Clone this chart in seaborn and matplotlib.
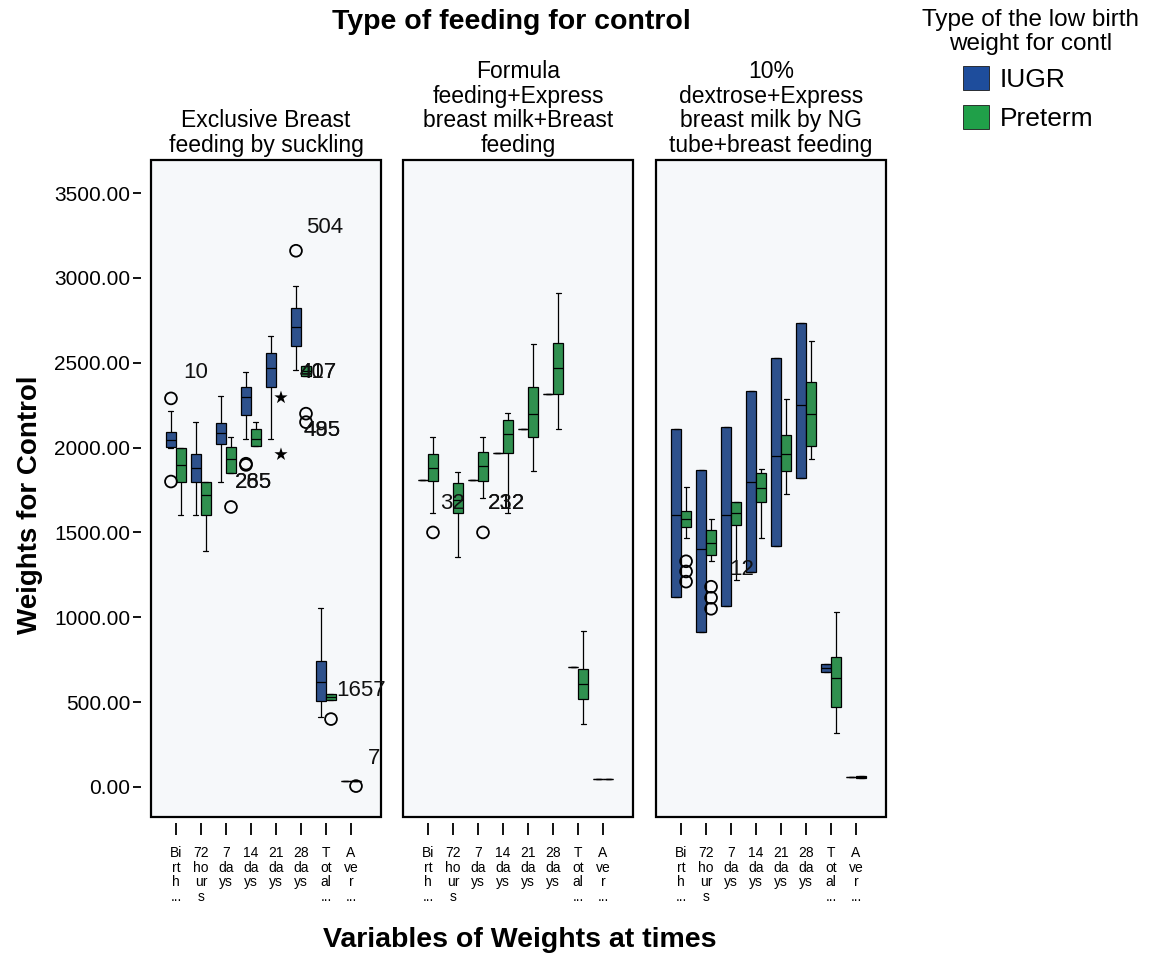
import numpy as np
import pandas as pd
import matplotlib
matplotlib.use("Agg")
import matplotlib.pyplot as plt
from matplotlib.patches import Patch
from matplotlib.ticker import FormatStrFormatter
import seaborn as sns

# ---------------------------------------------------------------- data
times = ["Birth", "72 hours", "7 days", "14 days", "21 days", "28 days", "Total", "Average"]
time_ticks = ["Bi\nrt\nh\n...", "72\nho\nur\ns", "7\nda\nys", "14\nda\nys",
              "21\nda\nys", "28\nda\nys", "T\not\nal\n...", "A\nve\nr\n..."]
types = ["IUGR", "Preterm"]
feedings = ["Exclusive Breast\nfeeding by suckling",
            "Formula\nfeeding+Express\nbreast milk+Breast\nfeeding",
            "10%\ndextrose+Express\nbreast milk by NG\ntube+breast feeding"]

# five-number summaries: (low whisker, Q1, median, Q3, high whisker)
breast_iugr = [(2000, 2005, 2045, 2090, 2215), (1600, 1800, 1880, 1960, 2150),
               (1795, 2020, 2085, 2145, 2305), (2050, 2195, 2300, 2355, 2445),
               (2050, 2360, 2470, 2555, 2655), (2460, 2600, 2710, 2820, 2955),
               (410, 505, 620, 745, 1055), (37, 37, 37, 37, 37)]
breast_preterm = [(1600, 1800, 1900, 2000, 2000), (1390, 1600, 1720, 1800, 1800),
                  (1850, 1850, 1930, 2005, 2060), (2010, 2010, 2050, 2110, 2150),
                  None, (2420, 2420, 2450, 2480, 2480),
                  (510, 510, 530, 550, 550), (35, 35, 35, 35, 35)]

formula_iugr = [(1807,) * 5, None, (1807,) * 5, (1969,) * 5,
                (2111,) * 5, (2318,) * 5, (705,) * 5, (47,) * 5]
formula_preterm = [(1612, 1801, 1880, 1961, 2061), (1353, 1612, 1690, 1790, 1858),
                   (1700, 1801, 1890, 1973, 2061), (1612, 1969, 2080, 2162, 2203),
                   (1861, 2061, 2200, 2360, 2611), (2111, 2318, 2467, 2614, 2912),
                   (370, 520, 606, 697, 917), (45, 45, 45, 45, 45)]

dextrose_iugr = [(1120, 1120, 1600, 2110, 2110), (915, 915, 1400, 1870, 1870),
                 (1065, 1065, 1600, 2120, 2120), (1265, 1265, 1800, 2335, 2335),
                 (1420, 1420, 1950, 2530, 2530), (1820, 1820, 2250, 2735, 2735),
                 (675, 675, 700, 722, 722), (59, 59, 59, 59, 59)]
dextrose_preterm = [(1470, 1530, 1580, 1625, 1770), (1330, 1365, 1440, 1515, 1577),
                    (1217, 1541, 1613, 1677, 1677), (1465, 1680, 1760, 1850, 1874),
                    (1725, 1862, 1960, 2073, 2286), (1931, 2012, 2199, 2386, 2628),
                    (319, 474, 644, 768, 1029), (52, 52, 58, 62, 62)]

# outlying cases: (time, type, weight, marker)
breast_outliers = [("Birth", "IUGR", 2290, "o"), ("Birth", "IUGR", 1800, "o"),
                   ("7 days", "Preterm", 1650, "o"), ("14 days", "IUGR", 1905, "o"),
                   ("14 days", "IUGR", 1898, "o"), ("21 days", "Preterm", 2295, "*"),
                   ("21 days", "Preterm", 1960, "*"), ("28 days", "IUGR", 3160, "o"),
                   ("28 days", "Preterm", 2200, "o"), ("28 days", "Preterm", 2150, "o"),
                   ("Total", "Preterm", 400, "o"), ("Average", "Preterm", 5, "o")]
formula_outliers = [("Birth", "Preterm", 1500, "o"), ("7 days", "Preterm", 1500, "o")]
dextrose_outliers = [("Birth", "Preterm", 1330, "o"), ("Birth", "Preterm", 1270, "o"),
                     ("Birth", "Preterm", 1210, "o"), ("72 hours", "Preterm", 1180, "o"),
                     ("72 hours", "Preterm", 1115, "o"), ("72 hours", "Preterm", 1050, "o")]

# case-number labels: (time, type, weight, text)
breast_labels = [("Birth", "IUGR", 2290, "10"), ("14 days", "IUGR", 1905, "285"),
                 ("14 days", "IUGR", 1905, "265"), ("21 days", "Preterm", 2295, "417"),
                 ("21 days", "Preterm", 2295, "407"), ("28 days", "IUGR", 3160, "504"),
                 ("28 days", "Preterm", 2200, "485"), ("28 days", "Preterm", 2200, "495"),
                 ("Total", "Preterm", 400, "1657"), ("Average", "Preterm", 5, "7")]
formula_labels = [("Birth", "Preterm", 1500, "32"), ("7 days", "Preterm", 1500, "212"),
                  ("7 days", "Preterm", 1500, "232")]
dextrose_labels = [("72 hours", "Preterm", 1180, "12")]

y_ticks = [0, 500, 1000, 1500, 2000, 2500, 3000, 3500]

# ---------------------------------------------------------------- style
sns.set_theme(style="white")
plt.rcParams["font.family"] = ["Liberation Sans", "DejaVu Sans"]
for key in ("text.color", "axes.labelcolor", "xtick.color", "ytick.color"):
    plt.rcParams[key] = "black"
palette = {"IUGR": "#1e4d9c", "Preterm": "#20a049"}

# label placement in pixels: (dx, dy, vertical alignment)
label_offsets = {"10": (12, 15, "bottom"), "285": (-11, -8, "top"), "265": (-11, -8, "top"),
                 "417": (19, 15, "bottom"), "407": (19, 15, "bottom"),
                 "504": (10, 13, "bottom"), "485": (-2, -6, "top"), "495": (-2, -6, "top"),
                 "1657": (5, 18, "bottom"), "7": (12, 17, "bottom"),
                 "32": (7, 18, "bottom"), "212": (5, 18, "bottom"), "232": (5, 18, "bottom"),
                 "12": (18, 7, "bottom")}


def summary_frame(iugr, preterm):
    rows = []
    for kind, stats in zip(types, (iugr, preterm)):
        for t, s in zip(times, stats):
            if s is None:
                continue
            for v in s:
                rows.append((t, kind, v))
    return pd.DataFrame(rows, columns=["time", "type", "weight"])


panels = [
    (feedings[0], breast_iugr, breast_preterm, breast_outliers, breast_labels),
    (feedings[1], formula_iugr, formula_preterm, formula_outliers, formula_labels),
    (feedings[2], dextrose_iugr, dextrose_preterm, dextrose_outliers, dextrose_labels),
]

fig = plt.figure(figsize=(11.63, 9.58), dpi=100)
fig.patch.set_facecolor("white")
lefts = [0.1298, 0.3465, 0.5641]

for i, (title, iugr, preterm, outliers, labels) in enumerate(panels):
    ax = fig.add_axes([lefts[i], 0.1472, 0.1978, 0.6858])
    df = summary_frame(iugr, preterm)
    sns.boxplot(data=df, x="time", y="weight", hue="type", order=times,
                hue_order=types, palette=palette, whis=np.inf, width=0.8,
                linecolor="black", linewidth=0.9, fliersize=0, legend=False,
                dodge=True, ax=ax)
    if i == 2:
        # the wide IUGR boxes here read as solid blue bars
        for p in ax.patches:
            if np.allclose(p.get_facecolor()[:3], matplotlib.colors.to_rgb(palette["IUGR"])):
                p.set_edgecolor("#143a7a")

    odf = pd.DataFrame(outliers, columns=["time", "type", "weight", "marker"])
    for marker, size in (("o", 8.5), ("*", 10)):
        sub = odf[odf["marker"] == marker]
        if sub.empty:
            continue
        n0 = len(ax.collections)
        sns.stripplot(data=sub, x="time", y="weight", hue="type", order=times,
                      hue_order=types, dodge=True, jitter=False, marker=marker,
                      size=size, palette={"IUGR": "black", "Preterm": "black"},
                      linewidth=1.3 if marker == "o" else 0, edgecolor="black",
                      legend=False, ax=ax, zorder=5)
        if marker == "o":
            for c in ax.collections[n0:]:
                c.set_facecolor("none")

    for t, kind, w, text in labels:
        x = times.index(t) + (-0.2 if kind == "IUGR" else 0.2)
        dx, dy, va = label_offsets[text]
        ax.annotate(text, (x, w), xytext=(dx, dy), textcoords="offset pixels",
                    ha="left", va=va, fontsize=16, color="#111111", zorder=6)

    ax.set_xlim(-1.0, 8.2)
    ax.set_ylim(-177, 3695)
    ax.set_xlabel("")
    ax.set_ylabel("")
    ax.set_facecolor("#f6f8fa")
    ax.patch.set_edgecolor("black")
    ax.patch.set_linewidth(1.6)
    for side in ("top", "right", "left", "bottom"):
        ax.spines[side].set_visible(False)
    ax.spines["bottom"].set_position(("outward", 4.5))
    ax.spines["left"].set_position(("outward", 7))

    ax.set_xticks(range(len(times)))
    ax.set_xticklabels(time_ticks, fontsize=10, linespacing=1.05)
    ax.tick_params(axis="x", direction="out", length=8.5, width=1.3,
                   pad=8, bottom=True, color="black")
    if i == 0:
        ax.set_yticks(y_ticks)
        ax.yaxis.set_major_formatter(FormatStrFormatter("%.2f"))
        ax.tick_params(axis="y", direction="out", length=6, width=1.3,
                       pad=2, left=True, labelsize=15, color="black")
    else:
        ax.set_yticks([])
    ax.set_title(title, fontsize=16.5, linespacing=1.08, pad=6)

fig.text(511 / 1163, 1 - 22 / 958, "Type of feeding for control",
         fontsize=20.5, fontweight="bold", ha="center", va="center")
fig.text(30 / 1163, 1 - 505 / 958, "Weights for Control", rotation=90,
         fontsize=20, fontweight="bold", ha="center", va="center")
fig.text(520 / 1163, 1 - 940 / 958, "Variables of Weights at times",
         fontsize=20.5, fontweight="bold", ha="center", va="center")

fig.text(1031 / 1163, 1 - 32 / 958, "Type of the low birth\nweight for contl",
         fontsize=17.5, ha="center", va="center", linespacing=1.08)
handles = [Patch(facecolor=palette[k], edgecolor="#1a1a1a", linewidth=0.6) for k in types]
fig.legend(handles, types, loc="upper left", bbox_to_anchor=(963 / 1163, 1 - 66 / 958),
           frameon=False, fontsize=19, handlelength=1.0, handleheight=1.0,
           handletextpad=0.4, labelspacing=0.5, borderpad=0, borderaxespad=0)

fig.savefig("out.png", dpi=100, facecolor="white")
